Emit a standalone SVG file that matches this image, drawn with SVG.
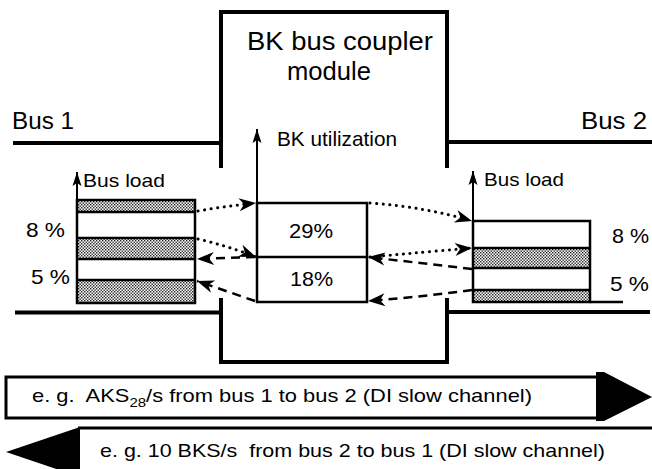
<svg xmlns="http://www.w3.org/2000/svg" width="652" height="469" viewBox="0 0 652 469">
  <style>
    text { font-family: "Liberation Sans", Arial, Helvetica, sans-serif; fill: #000; }
    .wall { stroke: #000; stroke-width: 4; fill: none; }
    .box { stroke: #000; stroke-width: 2.5; fill: none; }
    .axis { stroke: #000; stroke-width: 2; fill: none; marker-end: url(#axisHead); }
    .dot { stroke: #000; stroke-width: 3; fill: none; stroke-dasharray: 0.1 6.5; stroke-linecap: round; marker-end: url(#barb); }
    .dash { stroke: #000; stroke-width: 2.5; fill: none; stroke-dasharray: 9 6; marker-end: url(#barb); }
    .hatch { fill: url(#stipple); }
  </style>
  <defs>
    <pattern id="stipple" width="3" height="3" patternUnits="userSpaceOnUse">
      <rect width="3" height="3" fill="#fff"/>
      <rect width="1.4" height="1.4" fill="#222"/>
      <rect x="1.5" y="1.5" width="1.4" height="1.4" fill="#222"/>
    </pattern>
    <marker id="barb" viewBox="-18 -7 19 14" refX="0" refY="0" markerWidth="19" markerHeight="14" markerUnits="userSpaceOnUse" orient="auto">
      <path d="M0,0 L-17,-6.5 L-12,0 L-17,6.5 Z" fill="#000"/>
    </marker>
    <marker id="axisHead" viewBox="-15 -5 16 10" refX="0" refY="0" markerWidth="16" markerHeight="10" markerUnits="userSpaceOnUse" orient="auto">
      <path d="M0,0 L-14,-4.5 L-11,0 L-14,4.5 Z" fill="#000"/>
    </marker>
  </defs>

  <!-- bus lines -->
  <g id="bus1">
    <line class="wall" x1="13" y1="143" x2="221" y2="143"/>
    <line class="wall" x1="15" y1="312.5" x2="221" y2="312.5"/>
    <text x="12" y="129" font-size="23" textLength="62" lengthAdjust="spacingAndGlyphs">Bus 1</text>
  </g>
  <g id="bus2">
    <line class="wall" x1="447" y1="142" x2="652" y2="142"/>
    <line class="wall" x1="447" y1="312" x2="650" y2="312"/>
    <text x="581" y="129" font-size="23" textLength="66" lengthAdjust="spacingAndGlyphs">Bus 2</text>
  </g>

  <!-- coupler module outline -->
  <g id="module">
    <path class="wall" d="M221,168 V12 H447 V168"/>
    <path class="wall" d="M221,298 V362 H447 V298"/>
    <text x="247" y="50" font-size="25" textLength="186" lengthAdjust="spacingAndGlyphs">BK bus coupler</text>
    <text x="287" y="80" font-size="25" textLength="84" lengthAdjust="spacingAndGlyphs">module</text>
  </g>

  <!-- BK utilization bar -->
  <g id="utilization">
    <line class="axis" x1="257" y1="302" x2="257" y2="129"/>
    <text x="277" y="146" font-size="21" textLength="120" lengthAdjust="spacingAndGlyphs">BK utilization</text>
    <rect class="box" x="257" y="203" width="110" height="99"/>
    <line class="box" x1="257" y1="257" x2="367" y2="257"/>
    <text x="289" y="238" font-size="20" textLength="44" lengthAdjust="spacingAndGlyphs">29%</text>
    <text x="290" y="286" font-size="20" textLength="43" lengthAdjust="spacingAndGlyphs">18%</text>
  </g>

  <!-- bus 1 load bar -->
  <g id="load1">
    <rect class="hatch" x="77" y="200" width="118" height="12"/>
    <rect class="hatch" x="77" y="238" width="118" height="21"/>
    <rect class="hatch" x="77" y="280" width="118" height="23"/>
    <rect class="box" x="77" y="200" width="118" height="103"/>
    <line class="box" x1="77" y1="212" x2="195" y2="212"/>
    <line class="box" x1="77" y1="238" x2="195" y2="238"/>
    <line class="box" x1="77" y1="259" x2="195" y2="259"/>
    <line class="box" x1="77" y1="280" x2="195" y2="280"/>
    <line class="axis" x1="77" y1="303" x2="77" y2="172"/>
    <text x="83" y="187" font-size="19" textLength="82" lengthAdjust="spacingAndGlyphs">Bus load</text>
    <text x="26" y="237" font-size="21" textLength="39" lengthAdjust="spacingAndGlyphs">8 %</text>
    <text x="31" y="284" font-size="21" textLength="39" lengthAdjust="spacingAndGlyphs">5 %</text>
  </g>

  <!-- bus 2 load bar -->
  <g id="load2">
    <rect class="hatch" x="473" y="248" width="117" height="20"/>
    <rect class="hatch" x="473" y="290" width="117" height="12"/>
    <rect class="box" x="473" y="221" width="117" height="81"/>
    <line class="box" x1="473" y1="248" x2="590" y2="248"/>
    <line class="box" x1="473" y1="268" x2="590" y2="268"/>
    <line class="box" x1="473" y1="290" x2="590" y2="290"/>
    <line class="box" x1="590" y1="302" x2="623" y2="302"/>
    <line class="axis" x1="473" y1="302" x2="473" y2="171"/>
    <text x="484" y="186" font-size="19" textLength="80" lengthAdjust="spacingAndGlyphs">Bus load</text>
    <text x="612" y="243" font-size="21" textLength="37" lengthAdjust="spacingAndGlyphs">8 %</text>
    <text x="610" y="291" font-size="21" textLength="39" lengthAdjust="spacingAndGlyphs">5 %</text>
  </g>

  <!-- traffic flows: dotted = bus 1 to bus 2, dashed = bus 2 to bus 1 -->
  <g id="connectors">
    <path class="dot" d="M198,211 Q227,206 256,203"/>
    <path class="dot" d="M198,239 Q228,246 256,257"/>
    <path class="dot" d="M370,203 Q425,207 472,221"/>
    <path class="dot" d="M370,257 Q425,252 472,248"/>
    <path class="dash" d="M255,257 L197,259"/>
    <path class="dash" d="M255,301 L197,281"/>
    <path class="dash" d="M472,269 Q420,263 368,257"/>
    <path class="dash" d="M472,290 Q420,297 368,301"/>
  </g>

  <!-- direction banners -->
  <g id="banner-1to2">
    <path d="M6,377 H598 V418 H6 Z" fill="#fff" stroke="#000" stroke-width="3"/>
    <path d="M596,372 H604 L652,397 L604,421 H596 Z" fill="#000"/>
    <text x="32" y="402" font-size="19" textLength="500" lengthAdjust="spacingAndGlyphs" xml:space="preserve">e. g.  AKS<tspan font-size="13" dy="5">28</tspan><tspan dy="-5">/s from bus 1 to bus 2 (DI slow channel)</tspan></text>
  </g>
  <g id="banner-2to1">
    <line x1="78" y1="428" x2="652" y2="428" stroke="#000" stroke-width="3"/>
    <path d="M80,427 V477 L6,452 Z" fill="#000"/>
    <text x="100" y="457" font-size="19" textLength="505" lengthAdjust="spacingAndGlyphs" xml:space="preserve">e. g. 10 BKS/s  from bus 2 to bus 1 (DI slow channel)</text>
  </g>
</svg>
